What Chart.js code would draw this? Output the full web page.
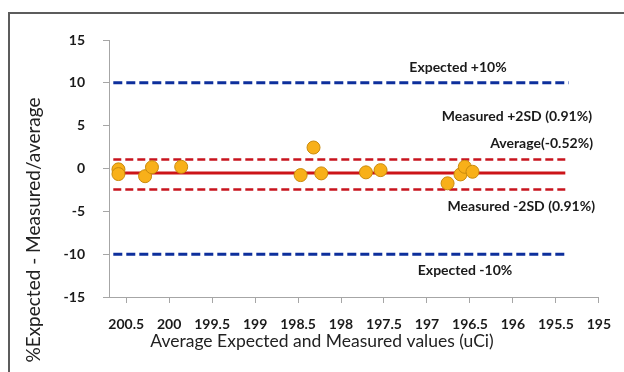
<!DOCTYPE html>
<html>
<head>
<meta charset="utf-8">
<script src="https://cdn.jsdelivr.net/npm/chart.js@4/dist/chart.umd.min.js"></script>
<style>
    html, body { margin: 0; padding: 0; background: #fff; overflow: hidden; }
    #frame {
        position: absolute; left: 8px; top: 12px;
        width: 700px; height: 420px;
        border: 2px solid #5c5c5c;
    }
    #wrap { position: absolute; left: 0; top: 0; width: 624px; height: 372px; }
</style>
</head>
<body>
<div id="frame"></div>
<div id="wrap"><canvas id="bland"></canvas></div>
<script>
// Axes
const xTicks = [200.5, 200, 199.5, 199, 198.5, 198, 197.5, 197, 196.5, 196, 195.5, 195];
const yTicks = [-15, -10, -5, 0, 5, 10, 15];

// Mesures (valeur moyenne, % d'écart)
const sampleX = [200.59, 200.59, 200.28, 200.20, 199.86, 198.47, 198.32, 198.23, 197.71, 197.54, 196.76, 196.61, 196.56, 196.47];
const sampleY = [-0.10, -0.65, -0.90, 0.15, 0.20, -0.77, 2.45, -0.57, -0.45, -0.19, -1.73, -0.69, 0.20, -0.38];

// Lignes de référence
const averageValue = -0.52;
const upperSDValue = 1.05;
const lowerSDValue = -2.45;
const expectedUpper = 10;
const expectedLower = -10;
const upperExpectedX = [200.65, 195.35];
const lowerExpectedX = [200.65, 195.39];
const sdLineX = [200.65, 195.39];

const FONT = 'Lato, "Liberation Sans", sans-serif';

function hLine(xs, y) {
    return xs.map(x => ({ x: x, y: y }));
}

// Textes posés à côté des lignes
const notes = [
    { text: 'Expected +10%', value: expectedUpper, dx: 349, dy: -15, align: 'center' },
    { text: 'Measured +2SD (0.91%)', value: upperSDValue, dx: 483, dy: -43, align: 'right' },
    { text: 'Average(-0.52%)', value: averageValue, dx: 484, dy: -29, align: 'right' },
    { text: 'Measured -2SD (0.91%)', value: lowerSDValue, dx: 486, dy: 17, align: 'right' },
    { text: 'Expected -10%', value: expectedLower, dx: 356, dy: 16, align: 'center' }
];

const notesPlugin = {
    id: 'notes',
    afterDraw(chart) {
        const ctx = chart.ctx;
        const area = chart.chartArea;
        const y = chart.scales.y;
        ctx.save();
        ctx.fillStyle = '#1a1a1a';
        ctx.textBaseline = 'middle';
        ctx.font = 'bold 14px ' + FONT;
        notes.forEach(n => {
            ctx.textAlign = n.align;
            ctx.fillText(n.text, area.left + n.dx, y.getPixelForValue(n.value) + n.dy);
        });

        // titres des axes
        ctx.fillStyle = '#222';
        ctx.textAlign = 'center';
        ctx.font = '17.5px ' + FONT;
        ctx.fillText('Average Expected and Measured values (uCi)', area.left + 213, area.bottom + 44);
        ctx.font = '19px ' + FONT;
        ctx.translate(34, area.top + 190);
        ctx.rotate(-Math.PI / 2);
        ctx.fillText('%Expected - Measured/average', 0, 0);
        ctx.restore();
    }
};

const axisGrey = '#a6a6a6';

new Chart(document.getElementById('bland'), {
    type: 'scatter',
    data: {
        datasets: [
            {
                label: 'Mesures',
                data: sampleX.map((x, i) => ({ x: x, y: sampleY[i] })),
                backgroundColor: '#f8b019',
                borderColor: '#c98a0c',
                borderWidth: 1,
                pointRadius: 6.5,
                order: 0
            },
            {
                label: 'Average',
                data: hLine(sdLineX, averageValue),
                showLine: true,
                borderColor: '#cc1418',
                borderWidth: 3,
                pointRadius: 0,
                order: 1
            },
            {
                label: '+2SD',
                data: hLine(sdLineX, upperSDValue),
                showLine: true,
                borderColor: '#c8141e',
                borderWidth: 2.5,
                borderDash: [8, 4],
                pointRadius: 0,
                order: 2
            },
            {
                label: '-2SD',
                data: hLine(sdLineX, lowerSDValue),
                showLine: true,
                borderColor: '#c8141e',
                borderWidth: 2.5,
                borderDash: [8, 4],
                pointRadius: 0,
                order: 2
            },
            {
                label: 'Expected +10%',
                data: hLine(upperExpectedX, expectedUpper),
                showLine: true,
                borderColor: '#0d2f9c',
                borderWidth: 3,
                borderDash: [9, 4],
                pointRadius: 0,
                order: 3
            },
            {
                label: 'Expected -10%',
                data: hLine(lowerExpectedX, expectedLower),
                showLine: true,
                borderColor: '#0d2f9c',
                borderWidth: 3,
                borderDash: [9, 4],
                pointRadius: 0,
                order: 3
            }
        ]
    },
    options: {
        responsive: true,
        maintainAspectRatio: false,
        animation: false,
        layout: { padding: { top: 40, right: 12, left: 0, bottom: 0 } },
        plugins: {
            legend: { display: false },
            tooltip: { enabled: false }
        },
        scales: {
            x: {
                type: 'linear',
                reverse: true,
                min: 195,
                max: 200.7,
                afterBuildTicks: scale => { scale.ticks = xTicks.map(v => ({ value: v })); },
                afterFit: scale => { scale.height = 75; },
                grid: { drawOnChartArea: false, drawTicks: true, tickLength: 6, color: axisGrey },
                border: { display: true, color: axisGrey },
                ticks: {
                    padding: 13,
                    color: '#1a1a1a',
                    font: { family: FONT, size: 14, weight: 'bold' },
                    maxRotation: 0,
                    autoSkip: false,
                    callback: value => String(value)
                }
            },
            y: {
                min: -15,
                max: 15,
                afterBuildTicks: scale => { scale.ticks = yTicks.map(v => ({ value: v })); },
                afterFit: scale => { scale.width = 109; },
                grid: { drawOnChartArea: false, drawTicks: true, tickLength: 6, color: axisGrey },
                border: { display: true, color: axisGrey },
                ticks: {
                    padding: 18,
                    color: '#1a1a1a',
                    font: { family: FONT, size: 14, weight: 'bold' }
                }
            }
        }
    },
    plugins: [notesPlugin]
});
</script>
</body>
</html>
